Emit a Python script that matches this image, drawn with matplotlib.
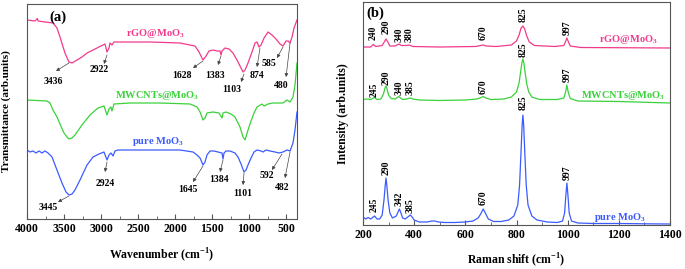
import numpy as np
import matplotlib
matplotlib.use('Agg')
import matplotlib.pyplot as plt
from matplotlib.ticker import MultipleLocator

plt.rcParams['font.family'] = ['Liberation Serif', 'DejaVu Serif']
plt.rcParams['font.weight'] = 'bold'
plt.rcParams['mathtext.fontset'] = 'custom'
plt.rcParams['mathtext.rm'] = 'Liberation Serif:bold'
plt.rcParams['mathtext.bf'] = 'Liberation Serif:bold'

PINK = '#F23A8C'
GREEN = '#3AD13A'
BLUE = '#3B5BFF'

# ---- FTIR (a) : wavenumber, transmittance (arb. units, stacked) ----
ftir_rgo_w = [4000, 3892, 3860, 3850, 3757, 3649, 3595, 3554, 3487, 3433, 3392, 3324, 3257, 3189, 3054,
              2973, 2946, 2919, 2892, 2879, 2852, 2825, 2744, 2338, 1933, 1730, 1676, 1622, 1581, 1541,
              1487, 1433, 1392, 1379, 1365, 1325, 1271, 1217, 1163, 1122, 1081, 1054, 1014, 960, 919,
              892, 865, 838, 797, 743, 690, 636, 582, 541, 500, 473, 446, 419, 392, 352]
ftir_rgo_t = [199, 198, 200.5, 198, 197, 196, 191, 182, 166, 157, 156, 159, 162, 166, 171,
              174, 175, 167, 171, 176, 174, 177, 177, 177, 176, 173, 167, 159, 163, 168,
              169, 168, 168, 164, 168, 171, 170, 166, 159, 153, 147, 149, 156, 167, 176,
              177, 172, 174, 181, 187, 184, 180, 175, 173, 178, 178, 176, 182, 191, 199]

ftir_mw_w = [4000, 3730, 3689, 3649, 3595, 3554, 3500, 3460, 3433, 3392, 3352, 3257, 3149, 3041, 2960,
             2919, 2892, 2865, 2852, 2825, 2608, 2203, 1798, 1703, 1662, 1622, 1595, 1568, 1487, 1406,
             1365, 1352, 1311, 1244, 1190, 1122, 1081, 1054, 1014, 973, 933, 892, 825, 797, 743,
             676, 609, 541, 487, 446, 406, 379, 352]
ftir_mw_t = [119, 118, 116, 109, 102, 95, 86, 82, 80, 81, 84, 94, 104, 111, 113,
             104, 110, 112, 108, 115, 116, 116, 115, 112, 107, 99, 101, 106, 107, 106,
             101, 106, 107, 105, 102, 92, 82, 79, 89, 98, 106, 112, 115, 113, 115,
             116, 116, 116, 119, 117, 122, 134, 156]

ftir_pure_w = [4000, 3959, 3919, 3878, 3838, 3797, 3757, 3716, 3662, 3595, 3527, 3473, 3433, 3392, 3352,
               3284, 3189, 3108, 3027, 2960, 2919, 2892, 2865, 2838, 2811, 2771, 2338, 1933, 1757, 1703,
               1662, 1622, 1595, 1568, 1527, 1473, 1419, 1365, 1352, 1338, 1311, 1257, 1190, 1149, 1108,
               1068, 1041, 1014, 973, 933, 892, 838, 811, 770, 716, 649, 595, 541, 487, 446,
               406, 379, 352]
ftir_pure_t = [69, 67, 68, 66, 68, 66, 68, 66, 62, 49, 36, 27, 24, 25, 29,
               39, 54, 62, 65, 67, 59, 64, 66, 63, 68, 69, 69, 69, 67, 64,
               61, 54, 57, 64, 68, 68, 67, 66, 60, 66, 68, 68, 66, 62, 55,
               47, 49, 54, 61, 67, 69, 68, 67, 69, 68, 67, 66, 67, 69, 68,
               76, 89, 107]

# peak label, arrow tail (on curve), arrow head, label position
ftir_rgo_ann = [('3436', (3433, 156), (3608, 148), (3649, 138)),
                ('2922', (2919, 164), (2960, 155), (3027, 149)),
                ('1628', (1622, 158), (1757, 151), (1906, 144)),
                ('1383', (1379, 163), (1419, 154), (1460, 144)),
                ('1103', (1068, 145), (1108, 137), (1230, 129)),
                ('874', (852, 171), (892, 152), (892, 143)),
                ('585', (541, 172), (622, 161), (730, 156)),
                ('480', (446, 176), (500, 142), (568, 133))]
ftir_pure_ann = [('3445', (3433, 23), (3581, 17), (3716, 11)),
                 ('2924', (2919, 57), (2946, 47), (2946, 36)),
                 ('1645', (1622, 53), (1757, 37), (1825, 30)),
                 ('1384', (1352, 59), (1392, 47), (1406, 40)),
                 ('1101', (1068, 46), (1081, 34), (1081, 26)),
                 ('592', (555, 65), (690, 49), (757, 44)),
                 ('482', (446, 67), (514, 41), (555, 31))]

# ---- Raman (b) : shift, intensity (arb. units, stacked) ----
raman_pure_w = [200, 210, 220, 230, 245, 255, 265, 275, 282, 287, 290, 293, 298, 305, 315, 330, 337, 342,
                347, 355, 365, 375, 385, 392, 400, 420, 450, 470, 480, 495, 520, 560, 600, 630, 650, 660,
                670, 678, 690, 710, 740, 770, 790, 805, 812, 818, 822, 825, 828, 832, 838, 845, 860, 880,
                920, 960, 980, 988, 993, 997, 1001, 1006, 1015, 1040, 1100, 1200, 1300, 1400]
raman_pure_i = [8, 6, 7.5, 6, 9, 6, 6, 10, 25, 40, 47, 40, 25, 12, 7, 9, 13, 16,
                13, 7, 6, 8, 10, 8, 5, 3, 3, 4, 4, 3, 2.5, 2.5, 3, 4, 7, 11,
                16, 12, 6, 3.5, 3.5, 5, 9, 20, 40, 75, 100, 110, 100, 75, 40, 20, 9, 5,
                3, 2.5, 4, 12, 30, 42, 30, 12, 4, 2, 1.5, 1.5, 1.2, 1]

raman_mw_w = [200, 215, 230, 245, 255, 270, 280, 286, 290, 294, 300, 310, 325, 335, 340, 346, 355, 370,
              385, 395, 420, 500, 600, 645, 662, 670, 680, 700, 750, 780, 800, 810, 816, 821, 825, 829,
              834, 840, 848, 860, 890, 960, 985, 992, 997, 1002, 1010, 1040, 1200, 1400]
raman_mw_i = [125.5, 126, 125.5, 127.5, 125.5, 126, 131, 137, 139, 136, 130, 126.5, 126, 127.5, 128.5, 127, 125.5, 126,
              127, 126, 125, 124.5, 125, 126, 127.5, 128.5, 127, 125.5, 126, 128, 133, 142, 153, 162, 166, 162,
              152, 141, 133, 128, 125.5, 125.5, 127, 133, 140, 133, 126.5, 124, 123.5, 122]

raman_rgo_w = [200, 230, 240, 250, 275, 283, 290, 297, 305, 325, 340, 350, 370, 380, 395, 500, 640, 660,
               670, 682, 720, 780, 800, 810, 818, 825, 832, 840, 850, 870, 950, 985, 991, 997, 1003, 1010,
               1050, 1400]
raman_rgo_i = [178, 178, 180.5, 178.5, 179.5, 183, 186, 183, 179, 179, 181, 179.5, 179.5, 180, 178.5, 178, 178.5, 179.5,
               180, 179, 178.5, 180, 184, 190, 197, 199, 196, 189, 183, 179.5, 178.5, 179.5, 183, 187, 183, 179,
               177.5, 177]

# peak label, label centre height
raman_rgo_ann = [('240', 240, 192), ('290', 290, 198), ('340', 340, 190), ('380', 380, 190),
                 ('670', 670, 192), ('825', 825, 210), ('997', 997, 197)]
raman_mw_ann = [('245', 245, 135), ('290', 290, 147), ('340', 340, 137), ('385', 385, 137),
                ('670', 670, 138), ('825', 825, 175), ('997', 997, 150)]
raman_pure_ann = [('245', 245, 20), ('290', 290, 57), ('342', 342, 26), ('385', 385, 19),
                  ('670', 670, 27), ('825', 825, 122), ('997', 997, 52)]

fig = plt.figure(figsize=(6.85, 2.69), dpi=100)
axa = fig.add_axes([27 / 685, 50 / 269, 270 / 685, 215 / 269])
axb = fig.add_axes([363 / 685, 44 / 269, 307 / 685, 223 / 269])

lw = 0.9
for ax in (axa, axb):
    for s in ax.spines.values():
        s.set_color('#555555')
        s.set_linewidth(0.8)
    ax.tick_params(axis='x', which='both', direction='in', labelsize=8.5, pad=3, color='#555555')
    ax.tick_params(axis='x', which='major', length=3.5)
    ax.tick_params(axis='x', which='minor', length=2)
    ax.set_yticks([])

# (a) FTIR
axa.plot(ftir_rgo_w, ftir_rgo_t, color=PINK, lw=lw)
axa.plot(ftir_mw_w, ftir_mw_t, color=GREEN, lw=lw)
axa.plot(ftir_pure_w, ftir_pure_t, color=BLUE, lw=lw)
axa.set_xlim(4000, 352)
axa.set_ylim(0, 215)
axa.xaxis.set_major_locator(MultipleLocator(500))
axa.xaxis.set_minor_locator(MultipleLocator(250))
for ann in ftir_rgo_ann + ftir_pure_ann:
    txt, tail, head, pos = ann
    axa.annotate('', xy=head, xytext=tail,
                 arrowprops=dict(arrowstyle='-|>', color='#444444', lw=0.5,
                                 mutation_scale=5, shrinkA=0, shrinkB=0))
    axa.text(pos[0], pos[1], txt, fontsize=7, fontweight='bold', ha='center', va='center')
axa.text(2271, 185, r'rGO@MoO$_3$', color=PINK, fontsize=7.5, fontweight='bold', ha='center', va='center')
axa.text(2244, 124, r'MWCNTs@MoO$_3$', color=GREEN, fontsize=7.5, fontweight='bold', ha='center', va='center')
axa.text(2230, 78, r'pure MoO$_3$', color=BLUE, fontsize=7.5, fontweight='bold', ha='center', va='center')
axa.text(3581, 202, '(a)', fontsize=10.5, fontweight='bold', ha='center', va='center')
axa.set_xlabel(r'Wavenumber (cm$^{-1}$)', fontsize=8.5, fontweight='bold')
axa.set_ylabel('Transmittance (arb.units)', fontsize=8, fontweight='bold')
axa.xaxis.set_label_coords(0.5, -0.125)
axa.yaxis.set_label_coords(-0.058, 0.5)

# (b) Raman
axb.plot(raman_rgo_w, raman_rgo_i, color=PINK, lw=lw)
axb.plot(raman_mw_w, raman_mw_i, color=GREEN, lw=lw)
axb.plot(raman_pure_w, raman_pure_i, color=BLUE, lw=lw)
axb.set_xlim(200, 1400)
axb.set_ylim(0, 223)
axb.xaxis.set_major_locator(MultipleLocator(200))
axb.xaxis.set_minor_locator(MultipleLocator(100))
for txt, w, y in raman_rgo_ann + raman_mw_ann + raman_pure_ann:
    axb.text(w, y, txt, fontsize=7, fontweight='bold', rotation=90, ha='center', va='center')
axb.text(1236, 185, r'rGO@MoO$_3$', color=PINK, fontsize=7.5, fontweight='bold', ha='center', va='center')
axb.text(1216, 130, r'MWCNTs@MoO$_3$', color=GREEN, fontsize=7.5, fontweight='bold', ha='center', va='center')
axb.text(1205, 8, r'pure MoO$_3$', color=BLUE, fontsize=7.5, fontweight='bold', ha='center', va='center')
axb.text(247, 212, '(b)', fontsize=10.5, fontweight='bold', ha='center', va='center')
axb.set_xlabel(r'Raman shift (cm$^{-1}$)', fontsize=8.5, fontweight='bold')
axb.set_ylabel('Intensity (arb.units)', fontsize=8.5, fontweight='bold')
axb.xaxis.set_label_coords(0.5, -0.12)
axb.yaxis.set_label_coords(-0.045, 0.5)

fig.savefig('out.png', dpi=100)
